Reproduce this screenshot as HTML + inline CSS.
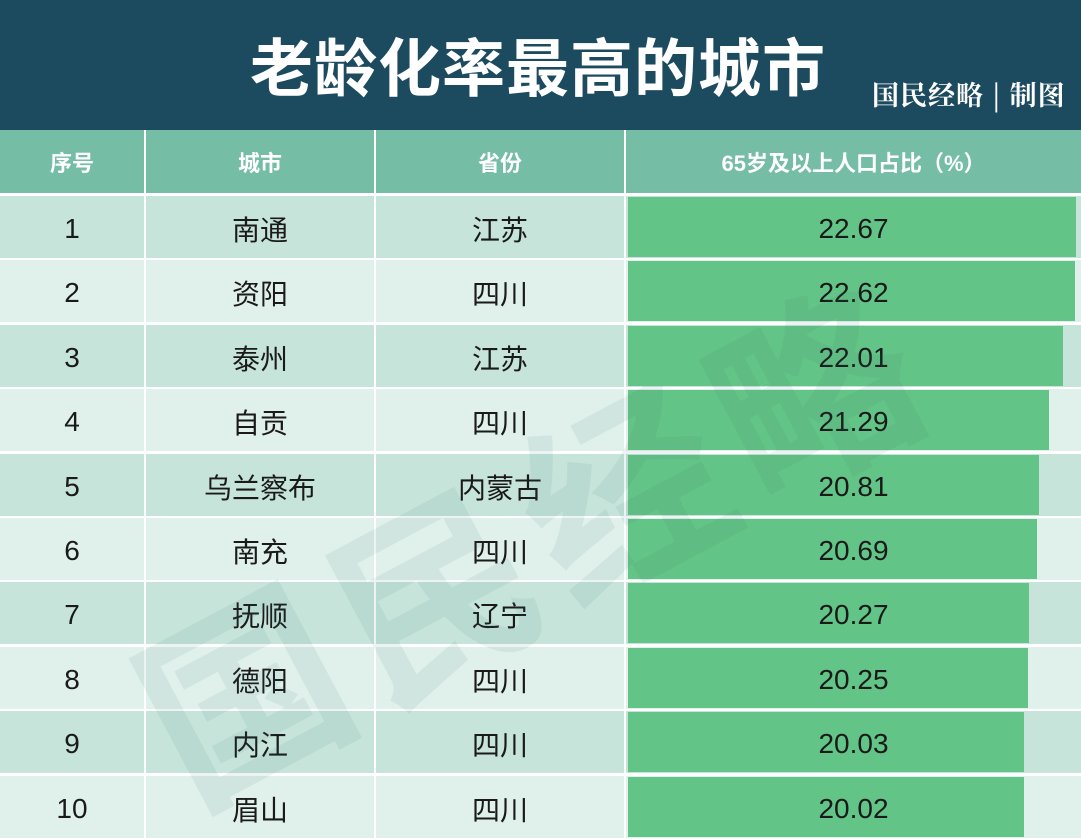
<!DOCTYPE html><html><head><meta charset="utf-8"><style>
html,body{margin:0;width:1081px;height:839px;overflow:hidden}
body{background:#fff;font-family:"Liberation Sans","Noto Sans CJK SC",sans-serif;position:relative}
.t{position:absolute;left:0;top:0;width:1081px;height:130px;background:#1c4a5e}
.t h1{position:absolute;left:250px;top:28px;margin:0;font-size:63px;line-height:84px;color:#fff;font-weight:bold;letter-spacing:1px;white-space:nowrap}
.t .s{position:absolute;left:872px;top:74px;font-size:27px;color:#fff;font-family:"Noto Serif CJK SC",serif;font-weight:bold;white-space:nowrap;letter-spacing:1px}
.c{position:absolute;display:flex;align-items:center;justify-content:center;box-sizing:border-box}
.h{background:#76bda6;color:#fff;font-size:22px;font-weight:bold;top:130px;height:63px}
.r{font-size:28px;color:#1a1a1a;padding-top:4px}
.bar{position:absolute;background:#63c487}
.wm{position:absolute;left:0;top:0;width:1081px;height:839px;overflow:hidden;pointer-events:none}
.w{position:absolute;left:530px;top:530px;font-size:200px;line-height:1;color:rgba(60,120,110,0.09);transform:translate(-50%,-50%) rotate(-28deg);white-space:nowrap;font-weight:bold;letter-spacing:15px;font-family:"Noto Sans CJK SC",sans-serif}
</style></head><body>
<div class="t"><h1>老龄化率最高的城市</h1><div class="s">国民经略 | 制图</div></div>
<div class="c h" style="left:0;width:144px">序号</div>
<div class="c h" style="left:146px;width:228px">城市</div>
<div class="c h" style="left:376px;width:248px">省份</div>
<div class="c h" style="left:626px;width:455px">65岁及以上人口占比（%）</div>
<div id="rows"></div>
<script>
var d=[["1","南通","江苏",22.67],["2","资阳","四川",22.62],["3","泰州","江苏",22.01],["4","自贡","四川",21.29],["5","乌兰察布","内蒙古",20.81],["6","南充","四川",20.69],["7","抚顺","辽宁",20.27],["8","德阳","四川",20.25],["9","内江","四川",20.03],["10","眉山","四川",20.02]];
var h="";
d.forEach(function(r,i){var t=196+i*64.4,bg=i%2?"#e0f0eb":"#c6e4da",hh=62;
h+='<div class="c r" style="left:0;width:144px;top:'+t+'px;height:'+hh+'px;background:'+bg+'">'+r[0]+'</div>';
h+='<div class="c r" style="left:146px;width:228px;top:'+t+'px;height:'+hh+'px;background:'+bg+'">'+r[1]+'</div>';
h+='<div class="c r" style="left:376px;width:248px;top:'+t+'px;height:'+hh+'px;background:'+bg+'">'+r[2]+'</div>';
h+='<div class="c r" style="left:626px;width:455px;top:'+t+'px;height:'+hh+'px;background:'+bg+'"></div>';
var w=r[3]/22.67*448;
h+='<div class="bar" style="left:628px;width:'+w+'px;top:'+(t+1)+'px;height:'+(hh-2)+'px"></div>';
h+='<div class="c r" style="left:626px;width:455px;top:'+t+'px;height:'+hh+'px">'+r[3].toFixed(2)+'</div>';});
document.getElementById("rows").innerHTML=h;
</script>
<div class="wm"><div class="w">国民经略</div></div>
</body></html>
